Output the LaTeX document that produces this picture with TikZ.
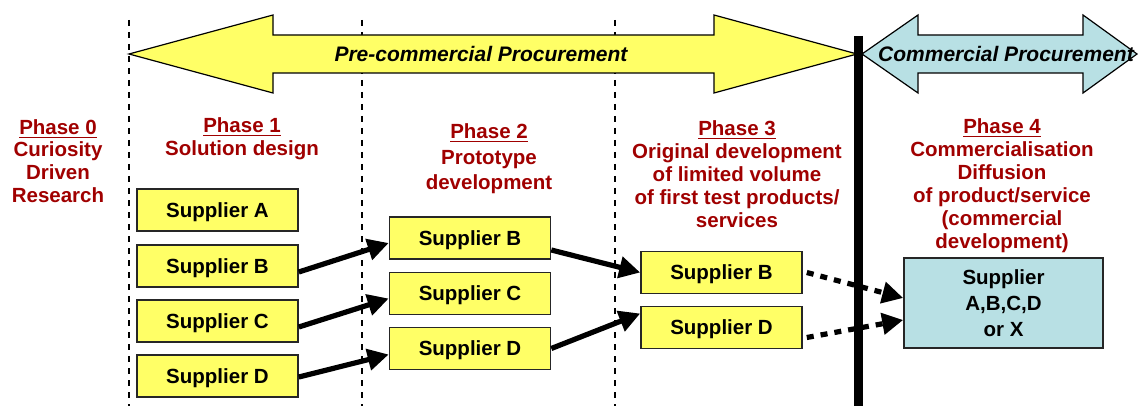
\documentclass[tikz,border=0pt]{standalone}
\usepackage{fontspec}
\setmainfont{Liberation Sans}
\usetikzlibrary{arrows.meta}
\definecolor{phasered}{RGB}{160,0,0}
\definecolor{boxyellow}{RGB}{255,255,102}
\definecolor{commcyan}{RGB}{184,224,228}

\begin{document}
\begin{tikzpicture}[x=0.5pt,y=-0.5pt,
    supplier/.style={draw=black!85,line width=0.8pt,fill=boxyellow,minimum width=80.5pt,minimum height=21pt,text depth=0pt,font=\fontsize{10.25}{12}\selectfont\bfseries},
    phase/.style={text=phasered,align=center,font=\fontsize{10.25}{11.4}\selectfont\bfseries},
    guide/.style={line width=0.6pt,dash pattern=on 3pt off 3pt},
    move/.style={line width=2.6pt,-{Triangle[length=10.5pt,width=10.5pt]}},
    later/.style={move,dash pattern=on 3.5pt off 3.5pt}]
        \useasboundingbox (0,0) rectangle (1138,406);

        \draw[guide] (129,20) -- (129,406);
        \draw[guide] (362,20) -- (362,406);
        \draw[guide] (615,20) -- (615,406);

        % big procurement arrows
        \draw[fill=boxyellow,line width=0.6pt] (129,54) -- (273,15) -- (273,35) -- (714,35) -- (714,15)
        -- (857,54) -- (714,93) -- (714,73) -- (273,73) -- (273,93) -- cycle;
        \draw[fill=commcyan,line width=0.6pt] (862,54) -- (918,15) -- (918,35) -- (1083,35) -- (1083,15)
        -- (1137,54) -- (1083,93) -- (1083,73) -- (918,73) -- (918,93) -- cycle;
        \draw (481,54) node[font=\fontsize{10.5}{12}\selectfont\bfseries\itshape] (pcp) {Pre-commercial Procurement};
        \draw (1006,54) node[font=\fontsize{10.5}{12}\selectfont\bfseries\itshape] (cp) {Commercial Procurement};
        \draw[line width=4.5pt] (858,36) -- (858,406);

        \draw (58,161) node[phase] (P0) {\underline{Phase 0}\\Curiosity\\Driven\\Research};
        \draw (242,139) node[phase] (P1) {\underline{Phase 1}\\Solution design};
        \draw (489,159) node[phase,font=\fontsize{10.25}{12.75}\selectfont\bfseries] (P2) {\underline{Phase 2}\\Prototype\\development};
        \draw (737,174) node[phase,font=\fontsize{10.25}{11.5}\selectfont\bfseries] (P3) {\underline{Phase 3}\\Original development\\of limited volume\\of first test products/\\services};
        \draw (1002,186) node[phase,font=\fontsize{10.25}{11.5}\selectfont\bfseries] (P4) {\underline{Phase 4}\\Commercialisation\\Diffusion\\of product/service\\(commercial\\development)};

        \draw (217.5,210) node[supplier] (A1) {Supplier A};
        \draw (217.5,266) node[supplier] (B1) {Supplier B};
        \draw (217.5,321) node[supplier] (C1) {Supplier C};
        \draw (217.5,376) node[supplier] (D1) {Supplier D};

        \draw (470,238) node[supplier] (B2) {Supplier B};
        \draw (470,293.5) node[supplier] (C2) {Supplier C};
        \draw (470,348.5) node[supplier] (D2) {Supplier D};

        \draw (721.5,272.5) node[supplier] (B3) {Supplier B};
        \draw (721.5,327.5) node[supplier] (D3) {Supplier D};

        \draw (1003.5,303) node[supplier,fill=commcyan,minimum width=99.5pt,minimum height=45pt,text depth=,
        align=center,font=\fontsize{10.25}{13}\selectfont\bfseries] (X4) {Supplier\\A,B,C,D\\or X};

        \draw[move] ([yshift=-3pt]B1.east) -- ([yshift=-2.5pt]B2.west);
        \draw[move] ([yshift=-3pt]C1.east) -- ([yshift=-2.5pt]C2.west);
        \draw[move] ([yshift=-0.5pt]D1.east) -- ([yshift=-3pt]D2.west);
        \draw[move] ([yshift=-6pt]B2.east) -- (B3.west);
        \draw[move] (D2.east) -- ([yshift=7pt]D3.west);

        \draw[later] ([xshift=2pt]B3.east) -- ([yshift=2.5pt]X4.west);
        \draw[later] ([xshift=2pt,yshift=-5pt]D3.east) -- ([yshift=-8.5pt]X4.west);
    \end{tikzpicture}
\end{document}
